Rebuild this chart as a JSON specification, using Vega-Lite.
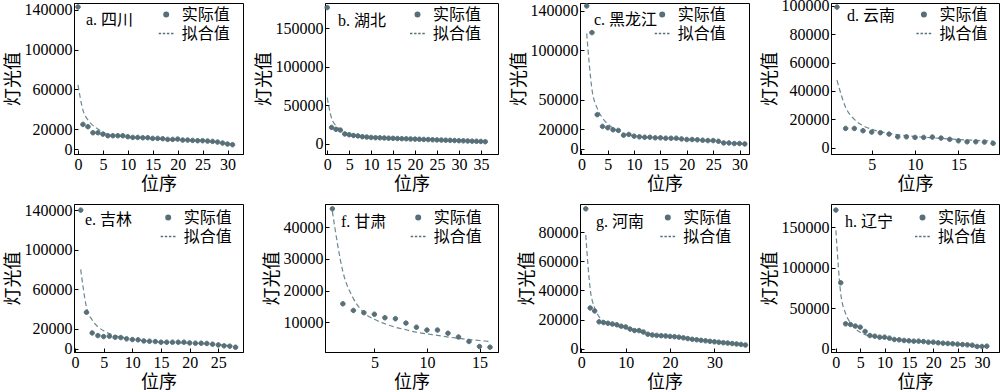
{
"$schema": "https://vega.github.io/schema/vega-lite/v6.json",
"padding": {"left": 3, "top": -3, "right": 0, "bottom": 0},
"background": "white",
"columns": 4,
"spacing": {"row": 50, "column": 82},
"bounds": "flush",
"data": {"values": [
{"p":"a","x":0,"实际值":143000,"拟合值":64500},{"p":"a","x":1,"实际值":24800,"拟合值":39160},{"p":"a","x":2,"实际值":22500,"拟合值":29240},{"p":"a","x":3,"实际值":16400,"拟合值":23770},{"p":"a","x":4,"实际值":16400,"拟合值":20240},{"p":"a","x":5,"实际值":15000,"拟合值":17200},{"p":"a","x":6,"实际值":13400,"拟合值":14500},{"p":"a","x":7,"实际值":13400,"拟合值":13600},{"p":"a","x":8,"实际值":13400,"拟合值":13000},{"p":"a","x":9,"实际值":13400,"拟合值":12500},{"p":"a","x":10,"实际值":12400,"拟合值":12000},{"p":"a","x":11,"实际值":11700,"拟合值":11600},{"p":"a","x":12,"实际值":11700,"拟合值":11200},{"p":"a","x":13,"实际值":11400,"拟合值":10900},{"p":"a","x":14,"实际值":11400,"拟合值":10600},{"p":"a","x":15,"实际值":10700,"拟合值":10300},{"p":"a","x":16,"实际值":10700,"拟合值":10000},{"p":"a","x":17,"实际值":10400,"拟合值":9700},{"p":"a","x":18,"实际值":9700,"拟合值":9500},{"p":"a","x":19,"实际值":9700,"拟合值":9300},{"p":"a","x":20,"实际值":10000,"拟合值":9100},{"p":"a","x":21,"实际值":9000,"拟合值":8900},{"p":"a","x":22,"实际值":9000,"拟合值":8700},{"p":"a","x":23,"实际值":8700,"拟合值":8500},{"p":"a","x":24,"实际值":8400,"拟合值":8300},{"p":"a","x":25,"实际值":8400,"拟合值":8000},{"p":"a","x":26,"实际值":8000,"拟合值":7700},{"p":"a","x":27,"实际值":7700,"拟合值":7400},{"p":"a","x":28,"实际值":7000,"拟合值":7000},{"p":"a","x":29,"实际值":6000,"拟合值":6400},{"p":"a","x":30,"实际值":5000,"拟合值":5600},{"p":"a","x":31,"实际值":4400,"拟合值":4800},
{"p":"b","x":0,"实际值":177000,"拟合值":60000},{"p":"b","x":1,"实际值":21500,"拟合值":33300},{"p":"b","x":2,"实际值":19000,"拟合值":23580},{"p":"b","x":3,"实际值":18000,"拟合值":18470},{"p":"b","x":4,"实际值":13000,"拟合值":15280},{"p":"b","x":5,"实际值":12000,"拟合值":13080},{"p":"b","x":6,"实际值":11000,"拟合值":11480},{"p":"b","x":7,"实际值":10500,"拟合值":10250},{"p":"b","x":8,"实际值":9500,"拟合值":9400},{"p":"b","x":9,"实际值":9000,"拟合值":8800},{"p":"b","x":10,"实际值":8500,"拟合值":8300},{"p":"b","x":11,"实际值":8200,"拟合值":7900},{"p":"b","x":12,"实际值":8000,"拟合值":7600},{"p":"b","x":13,"实际值":7800,"拟合值":7300},{"p":"b","x":14,"实际值":7500,"拟合值":7000},{"p":"b","x":15,"实际值":7300,"拟合值":6800},{"p":"b","x":16,"实际值":7100,"拟合值":6600},{"p":"b","x":17,"实际值":6900,"拟合值":6400},{"p":"b","x":18,"实际值":6700,"拟合值":6200},{"p":"b","x":19,"实际值":6500,"拟合值":6000},{"p":"b","x":20,"实际值":6300,"拟合值":5800},{"p":"b","x":21,"实际值":6100,"拟合值":5600},{"p":"b","x":22,"实际值":5900,"拟合值":5400},{"p":"b","x":23,"实际值":5700,"拟合值":5200},{"p":"b","x":24,"实际值":5500,"拟合值":5000},{"p":"b","x":25,"实际值":5300,"拟合值":4800},{"p":"b","x":26,"实际值":5100,"拟合值":4600},{"p":"b","x":27,"实际值":4900,"拟合值":4400},{"p":"b","x":28,"实际值":4700,"拟合值":4200},{"p":"b","x":29,"实际值":4500,"拟合值":4000},{"p":"b","x":30,"实际值":4300,"拟合值":3850},{"p":"b","x":31,"实际值":4100,"拟合值":3700},{"p":"b","x":32,"实际值":3900,"拟合值":3550},{"p":"b","x":33,"实际值":3700,"拟合值":3400},{"p":"b","x":34,"实际值":3500,"拟合值":3250},{"p":"b","x":35,"实际值":3300,"拟合值":3100},{"p":"b","x":36,"实际值":3000,"拟合值":2950},
{"p":"c","x":1,"实际值":145000,"拟合值":117000},{"p":"c","x":2,"实际值":118000,"拟合值":60560},{"p":"c","x":3,"实际值":34800,"拟合值":41200},{"p":"c","x":4,"实际值":22900,"拟合值":31350},{"p":"c","x":5,"实际值":21500,"拟合值":25360},{"p":"c","x":6,"实际值":19500,"拟合值":21330},{"p":"c","x":7,"实际值":18800,"拟合值":18000},{"p":"c","x":8,"实际值":14000,"拟合值":15500},{"p":"c","x":9,"实际值":14700,"拟合值":14300},{"p":"c","x":10,"实际值":13000,"拟合值":13300},{"p":"c","x":11,"实际值":12300,"拟合值":12500},{"p":"c","x":12,"实际值":11900,"拟合值":11900},{"p":"c","x":13,"实际值":11900,"拟合值":11500},{"p":"c","x":14,"实际值":11300,"拟合值":11100},{"p":"c","x":15,"实际值":11300,"拟合值":10800},{"p":"c","x":16,"实际值":10900,"拟合值":10500},{"p":"c","x":17,"实际值":10900,"拟合值":10200},{"p":"c","x":18,"实际值":10900,"拟合值":10000},{"p":"c","x":19,"实际值":10200,"拟合值":9700},{"p":"c","x":20,"实际值":9600,"拟合值":9400},{"p":"c","x":21,"实际值":9600,"拟合值":9100},{"p":"c","x":22,"实际值":9300,"拟合值":8800},{"p":"c","x":23,"实际值":8900,"拟合值":8500},{"p":"c","x":24,"实际值":8500,"拟合值":8200},{"p":"c","x":25,"实际值":8500,"拟合值":7800},{"p":"c","x":26,"实际值":7800,"拟合值":7300},{"p":"c","x":27,"实际值":6100,"拟合值":6800},{"p":"c","x":28,"实际值":6100,"拟合值":6300},{"p":"c","x":29,"实际值":5500,"拟合值":5900},{"p":"c","x":30,"实际值":5500,"拟合值":5500},{"p":"c","x":31,"实际值":5100,"拟合值":5100},
{"p":"d","x":1,"实际值":99000,"拟合值":47600},{"p":"d","x":2,"实际值":13600,"拟合值":28400},{"p":"d","x":3,"实际值":13600,"拟合值":20000},{"p":"d","x":4,"实际值":12000,"拟合值":15500},{"p":"d","x":5,"实际值":11000,"拟合值":13000},{"p":"d","x":6,"实际值":10600,"拟合值":11300},{"p":"d","x":7,"实际值":9600,"拟合值":10100},{"p":"d","x":8,"实际值":7700,"拟合值":9200},{"p":"d","x":9,"实际值":7700,"拟合值":8500},{"p":"d","x":10,"实际值":7300,"拟合值":7900},{"p":"d","x":11,"实际值":7300,"拟合值":7400},{"p":"d","x":12,"实际值":7500,"拟合值":7000},{"p":"d","x":13,"实际值":6800,"拟合值":6600},{"p":"d","x":14,"实际值":5900,"拟合值":6200},{"p":"d","x":15,"实际值":4900,"拟合值":5800},{"p":"d","x":16,"实际值":4200,"拟合值":5500},{"p":"d","x":17,"实际值":4200,"拟合值":5200},{"p":"d","x":18,"实际值":4000,"拟合值":4900},{"p":"d","x":19,"实际值":3100,"拟合值":4600},
{"p":"e","x":1,"实际值":140000,"拟合值":80000},{"p":"e","x":2,"实际值":36700,"拟合值":42000},{"p":"e","x":3,"实际值":15800,"拟合值":28800},{"p":"e","x":4,"实际值":13100,"拟合值":22040},{"p":"e","x":5,"实际值":12100,"拟合值":17900},{"p":"e","x":6,"实际值":12500,"拟合值":15110},{"p":"e","x":7,"实际值":11400,"拟合值":13100},{"p":"e","x":8,"实际值":11100,"拟合值":11570},{"p":"e","x":9,"实际值":9800,"拟合值":10370},{"p":"e","x":10,"实际值":9100,"拟合值":9400},{"p":"e","x":11,"实际值":8800,"拟合值":8600},{"p":"e","x":12,"实际值":7700,"拟合值":7940},{"p":"e","x":13,"实际值":7400,"拟合值":7370},{"p":"e","x":14,"实际值":7100,"拟合值":6870},{"p":"e","x":15,"实际值":6400,"拟合值":6450},{"p":"e","x":16,"实际值":6400,"拟合值":6200},{"p":"e","x":17,"实际值":6400,"拟合值":6000},{"p":"e","x":18,"实际值":6400,"拟合值":5800},{"p":"e","x":19,"实际值":6400,"拟合值":5600},{"p":"e","x":20,"实际值":5700,"拟合值":5400},{"p":"e","x":21,"实际值":5400,"拟合值":5200},{"p":"e","x":22,"实际值":5400,"拟合值":5000},{"p":"e","x":23,"实际值":5100,"拟合值":4700},{"p":"e","x":24,"实际值":4400,"拟合值":4400},{"p":"e","x":25,"实际值":3700,"拟合值":4000},{"p":"e","x":26,"实际值":2700,"拟合值":3500},{"p":"e","x":27,"实际值":2400,"拟合值":3000},{"p":"e","x":28,"实际值":1300,"拟合值":2500},
{"p":"f","x":1,"实际值":45800,"拟合值":45000},{"p":"f","x":2,"实际值":15800,"拟合值":26000},{"p":"f","x":3,"实际值":13700,"拟合值":17500},{"p":"f","x":4,"实际值":13000,"拟合值":13000},{"p":"f","x":5,"实际值":12500,"拟合值":10900},{"p":"f","x":6,"实际值":11400,"拟合值":9500},{"p":"f","x":7,"实际值":11100,"拟合值":8400},{"p":"f","x":8,"实际值":9700,"拟合值":7600},{"p":"f","x":9,"实际值":8400,"拟合值":6800},{"p":"f","x":10,"实际值":7500,"拟合值":6300},{"p":"f","x":11,"实际值":7500,"拟合值":5800},{"p":"f","x":12,"实际值":6500,"拟合值":5300},{"p":"f","x":13,"实际值":5300,"拟合值":4900},{"p":"f","x":14,"实际值":3900,"拟合值":4500},{"p":"f","x":15,"实际值":2300,"拟合值":4200},{"p":"f","x":16,"实际值":2100,"拟合值":3900},
{"p":"g","x":1,"实际值":96000,"拟合值":78000},{"p":"g","x":2,"实际值":28000,"拟合值":41000},{"p":"g","x":3,"实际值":26000,"拟合值":28000},{"p":"g","x":4,"实际值":18500,"拟合值":22000},{"p":"g","x":5,"实际值":18000,"拟合值":19000},{"p":"g","x":6,"实际值":17500,"拟合值":17300},{"p":"g","x":7,"实际值":17000,"拟合值":16300},{"p":"g","x":8,"实际值":16500,"拟合值":15500},{"p":"g","x":9,"实际值":15500,"拟合值":14700},{"p":"g","x":10,"实际值":15000,"拟合值":14000},{"p":"g","x":11,"实际值":13500,"拟合值":13200},{"p":"g","x":12,"实际值":12500,"拟合值":12400},{"p":"g","x":13,"实际值":12500,"拟合值":11700},{"p":"g","x":14,"实际值":11500,"拟合值":11000},{"p":"g","x":15,"实际值":10000,"拟合值":10400},{"p":"g","x":16,"实际值":9500,"拟合值":9900},{"p":"g","x":17,"实际值":9200,"拟合值":9400},{"p":"g","x":18,"实际值":9000,"拟合值":9000},{"p":"g","x":19,"实际值":8800,"拟合值":8700},{"p":"g","x":20,"实际值":8500,"拟合值":8400},{"p":"g","x":21,"实际值":8300,"拟合值":8100},{"p":"g","x":22,"实际值":8000,"拟合值":7800},{"p":"g","x":23,"实际值":7500,"拟合值":7400},{"p":"g","x":24,"实际值":7000,"拟合值":7000},{"p":"g","x":25,"实际值":6500,"拟合值":6600},{"p":"g","x":26,"实际值":6200,"拟合值":6200},{"p":"g","x":27,"实际值":5800,"拟合值":5900},{"p":"g","x":28,"实际值":5500,"拟合值":5500},{"p":"g","x":29,"实际值":5100,"拟合值":5200},{"p":"g","x":30,"实际值":4800,"拟合值":4900},{"p":"g","x":31,"实际值":4500,"拟合值":4600},{"p":"g","x":32,"实际值":4200,"拟合值":4300},{"p":"g","x":33,"实际值":3900,"拟合值":4000},{"p":"g","x":34,"实际值":3600,"拟合值":3700},{"p":"g","x":35,"实际值":3300,"拟合值":3400},{"p":"g","x":36,"实际值":3000,"拟合值":3100},{"p":"g","x":37,"实际值":2600,"拟合值":2800},
{"p":"h","x":0,"实际值":171000,"拟合值":146000},{"p":"h","x":1,"实际值":81400,"拟合值":68100},{"p":"h","x":2,"实际值":30800,"拟合值":43600},{"p":"h","x":3,"实际值":30000,"拟合值":31770},{"p":"h","x":4,"实际值":28000,"拟合值":24860},{"p":"h","x":5,"实际值":26700,"拟合值":20340},{"p":"h","x":6,"实际值":21400,"拟合值":17500},{"p":"h","x":7,"实际值":16400,"拟合值":15800},{"p":"h","x":8,"实际值":15600,"拟合值":14800},{"p":"h","x":9,"实际值":14400,"拟合值":14000},{"p":"h","x":10,"实际值":14400,"拟合值":13300},{"p":"h","x":11,"实际值":13200,"拟合值":12500},{"p":"h","x":12,"实际值":11500,"拟合值":11700},{"p":"h","x":13,"实际值":11100,"拟合值":11000},{"p":"h","x":14,"实际值":10300,"拟合值":10400},{"p":"h","x":15,"实际值":9900,"拟合值":9900},{"p":"h","x":16,"实际值":9500,"拟合值":9500},{"p":"h","x":17,"实际值":9500,"拟合值":9200},{"p":"h","x":18,"实际值":9000,"拟合值":8800},{"p":"h","x":19,"实际值":8200,"拟合值":8400},{"p":"h","x":20,"实际值":8200,"拟合值":8000},{"p":"h","x":21,"实际值":7400,"拟合值":7500},{"p":"h","x":22,"实际值":7000,"拟合值":7100},{"p":"h","x":23,"实际值":6600,"拟合值":6700},{"p":"h","x":24,"实际值":6200,"拟合值":6300},{"p":"h","x":25,"实际值":5800,"拟合值":5800},{"p":"h","x":26,"实际值":5300,"拟合值":5300},{"p":"h","x":27,"实际值":4900,"拟合值":4900},{"p":"h","x":28,"实际值":4500,"拟合值":4400},{"p":"h","x":29,"实际值":2900,"拟合值":3900},{"p":"h","x":30,"实际值":2900,"拟合值":3500},{"p":"h","x":31,"实际值":3300,"拟合值":3200}
]},
"resolve": {"scale": {"x": "independent", "y": "independent", "shape": "independent"}, "legend": {"shape": "independent"}},
"concat": [
{"width": 169, "height": 151, "title": {"text": "a. 四川", "dx": 12, "dy": 30},
 "transform": [{"filter": "datum.p == 'a'"}, {"fold": ["实际值", "拟合值"], "as": ["类型", "值"]}],
 "encoding": {"x": {"field": "x", "type": "quantitative", "scale": {"domain": [-0.8, 33.1], "nice": false, "zero": false}, "axis": {"values": [0,5,10,15,20,25,30], "title": "位序", "format": "d"}},
  "y": {"field": "值", "type": "quantitative", "scale": {"domain": [-5000, 147000], "nice": false, "zero": false}, "axis": {"values": [0,20000,60000,100000,140000], "title": "灯光值", "format": "d"}}},
 "layer": [
  {"transform": [{"filter": {"field": "类型", "equal": "拟合值"}}], "mark": {"type": "line", "strokeDash": [5,3], "strokeWidth": 1.2, "color": "#6b8990", "interpolate": "monotone"}},
  {"transform": [{"filter": {"field": "类型", "equal": "实际值"}}], "mark": {"type": "point", "filled": true, "size": 225, "color": "#566f78", "stroke": "#566f78", "strokeWidth": 1, "opacity": 1},
   "encoding": {"shape": {"field": "类型", "type": "nominal", "scale": {"domain": ["实际值", "拟合值"], "range": ["M-0.3,0A0.3,0.3,0,1,1,0.3,0A0.3,0.3,0,1,1,-0.3,0Z", "M-1,0L-0.68,0M-0.45,0L-0.13,0M0.1,0L0.42,0M0.65,0L0.97,0"]}, "legend": {"orient": "none", "legendX": 83.7, "legendY": 3, "title": null, "encode": {"symbols": {"update": {"stroke": {"value": "#566f78"}, "strokeWidth": {"value": 1.2}, "fill": {"value": "#566f78"}, "opacity": {"value": 1}}}}}}}}
 ]},
{"width": 173, "height": 151, "title": {"text": "b. 湖北", "dx": 13, "dy": 30},
 "transform": [{"filter": "datum.p == 'b'"}, {"fold": ["实际值", "拟合值"], "as": ["类型", "值"]}],
 "encoding": {"x": {"field": "x", "type": "quantitative", "scale": {"domain": [-0.5, 38.9], "nice": false, "zero": false}, "axis": {"values": [0,5,10,15,20,25,30,35], "title": "位序", "format": "d"}},
  "y": {"field": "值", "type": "quantitative", "scale": {"domain": [-13000, 182900], "nice": false, "zero": false}, "axis": {"values": [0,50000,100000,150000], "title": "灯光值", "format": "d"}}},
 "layer": [
  {"transform": [{"filter": {"field": "类型", "equal": "拟合值"}}], "mark": {"type": "line", "strokeDash": [5,3], "strokeWidth": 1.2, "color": "#6b8990", "interpolate": "monotone"}},
  {"transform": [{"filter": {"field": "类型", "equal": "实际值"}}], "mark": {"type": "point", "filled": true, "size": 225, "color": "#566f78", "stroke": "#566f78", "strokeWidth": 1, "opacity": 1},
   "encoding": {"shape": {"field": "类型", "type": "nominal", "scale": {"domain": ["实际值", "拟合值"], "range": ["M-0.3,0A0.3,0.3,0,1,1,0.3,0A0.3,0.3,0,1,1,-0.3,0Z", "M-1,0L-0.68,0M-0.45,0L-0.13,0M0.1,0L0.42,0M0.65,0L0.97,0"]}, "legend": {"orient": "none", "legendX": 84, "legendY": 3, "title": null, "encode": {"symbols": {"update": {"stroke": {"value": "#566f78"}, "strokeWidth": {"value": 1.2}, "fill": {"value": "#566f78"}, "opacity": {"value": 1}}}}}}}}
 ]},
{"width": 169, "height": 151, "title": {"text": "c. 黑龙江", "dx": 14, "dy": 30},
 "transform": [{"filter": "datum.p == 'c'"}, {"fold": ["实际值", "拟合值"], "as": ["类型", "值"]}],
 "encoding": {"x": {"field": "x", "type": "quantitative", "scale": {"domain": [-0.27, 31.8], "nice": false, "zero": false}, "axis": {"values": [0,5,10,15,20,25,30], "title": "位序", "format": "d"}},
  "y": {"field": "值", "type": "quantitative", "scale": {"domain": [-5100, 148000], "nice": false, "zero": false}, "axis": {"values": [0,20000,50000,100000,140000], "title": "灯光值", "format": "d"}}},
 "layer": [
  {"transform": [{"filter": {"field": "类型", "equal": "拟合值"}}], "mark": {"type": "line", "strokeDash": [5,3], "strokeWidth": 1.2, "color": "#6b8990", "interpolate": "monotone"}},
  {"transform": [{"filter": {"field": "类型", "equal": "实际值"}}], "mark": {"type": "point", "filled": true, "size": 225, "color": "#566f78", "stroke": "#566f78", "strokeWidth": 1, "opacity": 1},
   "encoding": {"shape": {"field": "类型", "type": "nominal", "scale": {"domain": ["实际值", "拟合值"], "range": ["M-0.3,0A0.3,0.3,0,1,1,0.3,0A0.3,0.3,0,1,1,-0.3,0Z", "M-1,0L-0.68,0M-0.45,0L-0.13,0M0.1,0L0.42,0M0.65,0L0.97,0"]}, "legend": {"orient": "none", "legendX": 73.7, "legendY": 3, "title": null, "encode": {"symbols": {"update": {"stroke": {"value": "#566f78"}, "strokeWidth": {"value": 1.2}, "fill": {"value": "#566f78"}, "opacity": {"value": 1}}}}}}}}
 ]},
{"width": 168, "height": 151, "title": {"text": "d. 云南", "dx": 16, "dy": 30},
 "transform": [{"filter": "datum.p == 'd'"}, {"fold": ["实际值", "拟合值"], "as": ["类型", "值"]}],
 "encoding": {"x": {"field": "x", "type": "quantitative", "scale": {"domain": [0.31, 19.68], "nice": false, "zero": false}, "axis": {"values": [5,10,15], "title": "位序", "format": "d"}},
  "y": {"field": "值", "type": "quantitative", "scale": {"domain": [-4400, 101900], "nice": false, "zero": false}, "axis": {"values": [0,20000,40000,60000,80000,100000], "title": "灯光值", "format": "d"}}},
 "layer": [
  {"transform": [{"filter": {"field": "类型", "equal": "拟合值"}}], "mark": {"type": "line", "strokeDash": [5,3], "strokeWidth": 1.2, "color": "#6b8990", "interpolate": "monotone"}},
  {"transform": [{"filter": {"field": "类型", "equal": "实际值"}}], "mark": {"type": "point", "filled": true, "size": 225, "color": "#566f78", "stroke": "#566f78", "strokeWidth": 1, "opacity": 1},
   "encoding": {"shape": {"field": "类型", "type": "nominal", "scale": {"domain": ["实际值", "拟合值"], "range": ["M-0.3,0A0.3,0.3,0,1,1,0.3,0A0.3,0.3,0,1,1,-0.3,0Z", "M-1,0L-0.68,0M-0.45,0L-0.13,0M0.1,0L0.42,0M0.65,0L0.97,0"]}, "legend": {"orient": "none", "legendX": 84.4, "legendY": 3, "title": null, "encode": {"symbols": {"update": {"stroke": {"value": "#566f78"}, "strokeWidth": {"value": 1.2}, "fill": {"value": "#566f78"}, "opacity": {"value": 1}}}}}}}}
 ]},
{"width": 169, "height": 148, "title": {"text": "e. 吉林", "dx": 11, "dy": 30},
 "transform": [{"filter": "datum.p == 'e'"}, {"fold": ["实际值", "拟合值"], "as": ["类型", "值"]}],
 "encoding": {"x": {"field": "x", "type": "quantitative", "scale": {"domain": [-0.17, 29.3], "nice": false, "zero": false}, "axis": {"values": [0,5,10,15,20,25], "title": "位序", "format": "d"}},
  "y": {"field": "值", "type": "quantitative", "scale": {"domain": [-3500, 146200], "nice": false, "zero": false}, "axis": {"values": [0,20000,60000,100000,140000], "title": "灯光值", "format": "d"}}},
 "layer": [
  {"transform": [{"filter": {"field": "类型", "equal": "拟合值"}}], "mark": {"type": "line", "strokeDash": [5,3], "strokeWidth": 1.2, "color": "#6b8990", "interpolate": "monotone"}},
  {"transform": [{"filter": {"field": "类型", "equal": "实际值"}}], "mark": {"type": "point", "filled": true, "size": 225, "color": "#566f78", "stroke": "#566f78", "strokeWidth": 1, "opacity": 1},
   "encoding": {"shape": {"field": "类型", "type": "nominal", "scale": {"domain": ["实际值", "拟合值"], "range": ["M-0.3,0A0.3,0.3,0,1,1,0.3,0A0.3,0.3,0,1,1,-0.3,0Z", "M-1,0L-0.68,0M-0.45,0L-0.13,0M0.1,0L0.42,0M0.65,0L0.97,0"]}, "legend": {"orient": "none", "legendX": 85.7, "legendY": 5, "title": null, "encode": {"symbols": {"update": {"stroke": {"value": "#566f78"}, "strokeWidth": {"value": 1.2}, "fill": {"value": "#566f78"}, "opacity": {"value": 1}}}}}}}}
 ]},
{"width": 173, "height": 148, "title": {"text": "f. 甘肃", "dx": 16, "dy": 30},
 "transform": [{"filter": "datum.p == 'f'"}, {"fold": ["实际值", "拟合值"], "as": ["类型", "值"]}],
 "encoding": {"x": {"field": "x", "type": "quantitative", "scale": {"domain": [0.3, 16.76], "nice": false, "zero": false}, "axis": {"values": [5,10,15], "title": "位序", "format": "d"}},
  "y": {"field": "值", "type": "quantitative", "scale": {"domain": [570, 47340], "nice": false, "zero": false}, "axis": {"values": [10000,20000,30000,40000], "title": "灯光值", "format": "d"}}},
 "layer": [
  {"transform": [{"filter": {"field": "类型", "equal": "拟合值"}}], "mark": {"type": "line", "strokeDash": [5,3], "strokeWidth": 1.2, "color": "#6b8990", "interpolate": "monotone"}},
  {"transform": [{"filter": {"field": "类型", "equal": "实际值"}}], "mark": {"type": "point", "filled": true, "size": 225, "color": "#566f78", "stroke": "#566f78", "strokeWidth": 1, "opacity": 1},
   "encoding": {"shape": {"field": "类型", "type": "nominal", "scale": {"domain": ["实际值", "拟合值"], "range": ["M-0.3,0A0.3,0.3,0,1,1,0.3,0A0.3,0.3,0,1,1,-0.3,0Z", "M-1,0L-0.68,0M-0.45,0L-0.13,0M0.1,0L0.42,0M0.65,0L0.97,0"]}, "legend": {"orient": "none", "legendX": 84.7, "legendY": 5, "title": null, "encode": {"symbols": {"update": {"stroke": {"value": "#566f78"}, "strokeWidth": {"value": 1.2}, "fill": {"value": "#566f78"}, "opacity": {"value": 1}}}}}}}}
 ]},
{"width": 169, "height": 148, "title": {"text": "g. 河南", "dx": 16, "dy": 30},
 "transform": [{"filter": "datum.p == 'g'"}, {"fold": ["实际值", "拟合值"], "as": ["类型", "值"]}],
 "encoding": {"x": {"field": "x", "type": "quantitative", "scale": {"domain": [-0.3, 37.8], "nice": false, "zero": false}, "axis": {"values": [0,10,20,30], "title": "位序", "format": "d"}},
  "y": {"field": "值", "type": "quantitative", "scale": {"domain": [-2200, 99300], "nice": false, "zero": false}, "axis": {"values": [0,20000,40000,60000,80000], "title": "灯光值", "format": "d"}}},
 "layer": [
  {"transform": [{"filter": {"field": "类型", "equal": "拟合值"}}], "mark": {"type": "line", "strokeDash": [5,3], "strokeWidth": 1.2, "color": "#6b8990", "interpolate": "monotone"}},
  {"transform": [{"filter": {"field": "类型", "equal": "实际值"}}], "mark": {"type": "point", "filled": true, "size": 225, "color": "#566f78", "stroke": "#566f78", "strokeWidth": 1, "opacity": 1},
   "encoding": {"shape": {"field": "类型", "type": "nominal", "scale": {"domain": ["实际值", "拟合值"], "range": ["M-0.3,0A0.3,0.3,0,1,1,0.3,0A0.3,0.3,0,1,1,-0.3,0Z", "M-1,0L-0.68,0M-0.45,0L-0.13,0M0.1,0L0.42,0M0.65,0L0.97,0"]}, "legend": {"orient": "none", "legendX": 79.3, "legendY": 5, "title": null, "encode": {"symbols": {"update": {"stroke": {"value": "#566f78"}, "strokeWidth": {"value": 1.2}, "fill": {"value": "#566f78"}, "opacity": {"value": 1}}}}}}}}
 ]},
{"width": 168, "height": 148, "title": {"text": "h. 辽宁", "dx": 14, "dy": 30},
 "transform": [{"filter": "datum.p == 'h'"}, {"fold": ["实际值", "拟合值"], "as": ["类型", "值"]}],
 "encoding": {"x": {"field": "x", "type": "quantitative", "scale": {"domain": [-1.0, 33.5], "nice": false, "zero": false}, "axis": {"values": [0,5,10,15,20,25,30], "title": "位序", "format": "d"}},
  "y": {"field": "值", "type": "quantitative", "scale": {"domain": [-3900, 178500], "nice": false, "zero": false}, "axis": {"values": [0,50000,100000,150000], "title": "灯光值", "format": "d"}}},
 "layer": [
  {"transform": [{"filter": {"field": "类型", "equal": "拟合值"}}], "mark": {"type": "line", "strokeDash": [5,3], "strokeWidth": 1.2, "color": "#6b8990", "interpolate": "monotone"}},
  {"transform": [{"filter": {"field": "类型", "equal": "实际值"}}], "mark": {"type": "point", "filled": true, "size": 225, "color": "#566f78", "stroke": "#566f78", "strokeWidth": 1, "opacity": 1},
   "encoding": {"shape": {"field": "类型", "type": "nominal", "scale": {"domain": ["实际值", "拟合值"], "range": ["M-0.3,0A0.3,0.3,0,1,1,0.3,0A0.3,0.3,0,1,1,-0.3,0Z", "M-1,0L-0.68,0M-0.45,0L-0.13,0M0.1,0L0.42,0M0.65,0L0.97,0"]}, "legend": {"orient": "none", "legendX": 83, "legendY": 5, "title": null, "encode": {"symbols": {"update": {"stroke": {"value": "#566f78"}, "strokeWidth": {"value": 1.2}, "fill": {"value": "#566f78"}, "opacity": {"value": 1}}}}}}}}
 ]}
],
"config": {
 "font": "Liberation Serif, Noto Sans CJK SC",
 "view": {"stroke": "black", "strokeWidth": 1},
 "axis": {"grid": false, "domainColor": "black", "domainWidth": 1, "tickColor": "black", "tickSize": -4, "tickWidth": 1, "labelFont": "Liberation Serif", "labelFontSize": 16, "labelColor": "black", "labelPadding": 6, "labelOverlap": false, "labelFlush": false, "titleFont": "Noto Sans CJK SC", "titleFontSize": 18, "titleFontWeight": "normal", "titleColor": "black", "titlePadding": 2},
 "axisX": {"titlePadding": 3},
 "legend": {"labelFont": "Noto Sans CJK SC", "labelFontSize": 16, "labelColor": "black", "symbolSize": 225, "labelOffset": 7, "rowPadding": 2, "padding": 0},
 "title": {"font": "Liberation Serif, Noto Sans CJK SC", "fontSize": 16, "fontWeight": "normal", "color": "black", "anchor": "start", "frame": "group", "orient": "top", "offset": 0, "baseline": "middle"}
}
}
